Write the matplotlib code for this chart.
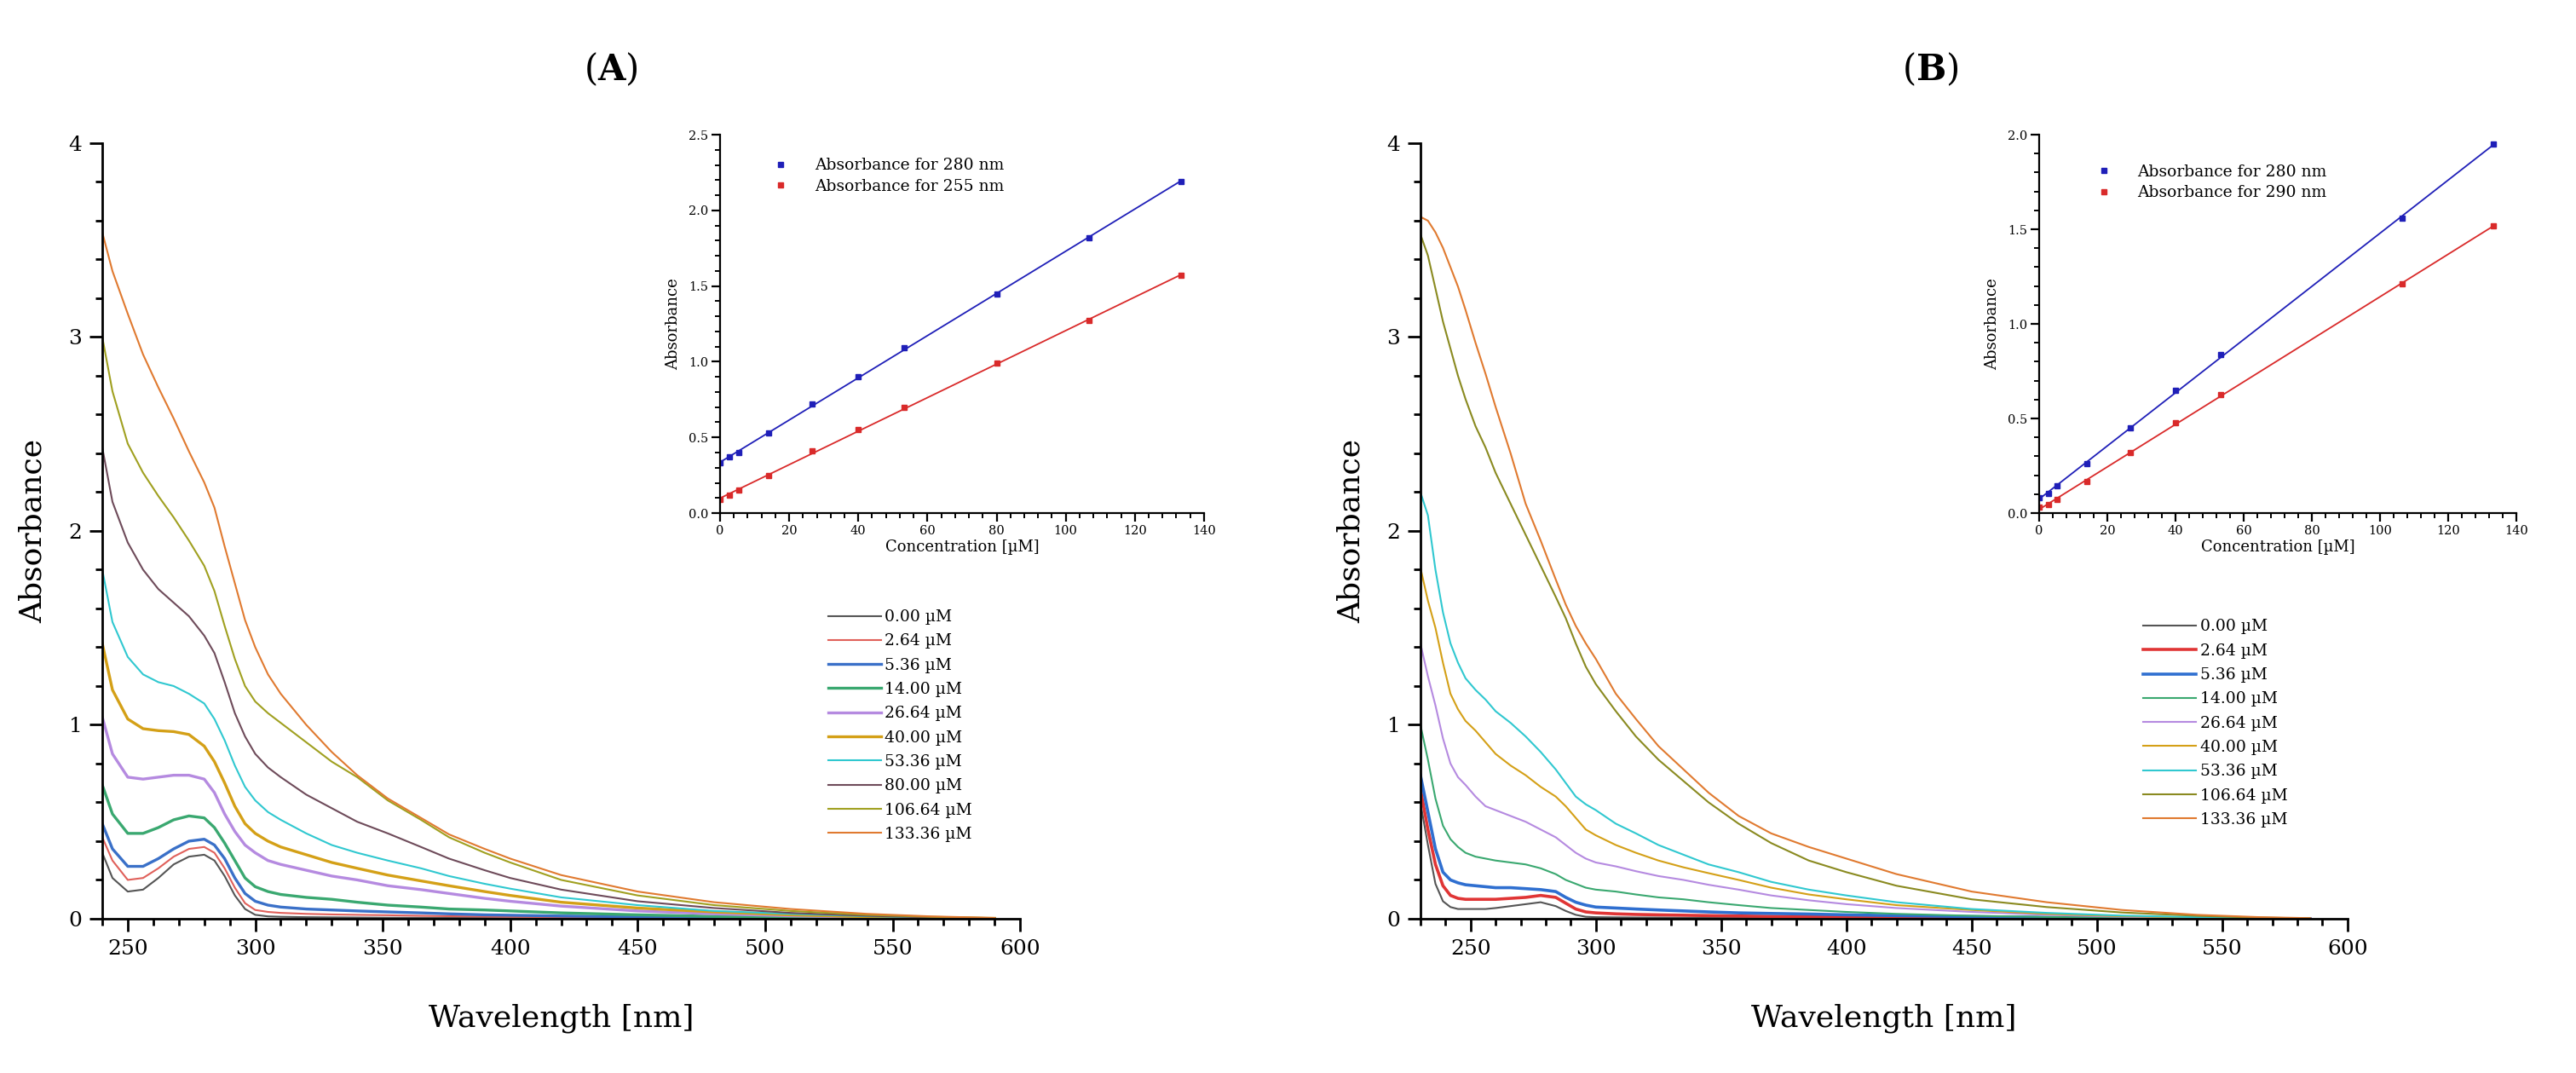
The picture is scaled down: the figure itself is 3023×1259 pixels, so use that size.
import numpy as np
import matplotlib.pyplot as plt
from matplotlib.ticker import MultipleLocator

plt.rcParams['font.family'] = ['DejaVu Serif']
plt.rcParams['mathtext.fontset'] = 'custom'
plt.rcParams['mathtext.bf'] = 'DejaVu Serif:bold'

# =========================================================
# DATA - panel A (spectra)
# =========================================================

wl_a = [240, 244, 250, 256, 262, 268, 274, 280, 284, 288, 292, 296, 300, 305, 310,
        320, 330, 340, 352, 365, 376, 390, 400, 420, 450, 480, 510, 540, 565, 590]

abs_a_000 = [0.34, 0.21, 0.14, 0.15, 0.21, 0.28, 0.32, 0.33, 0.30, 0.22, 0.12, 0.05, 0.02, 0.012, 0.01,
             0.008, 0.007, 0.006, 0.005, 0.005, 0.004, 0.004, 0.003, 0.003, 0.002, 0.002, 0.001, 0.001, 0.0, 0.0]
abs_a_264 = [0.42, 0.30, 0.20, 0.21, 0.26, 0.32, 0.36, 0.37, 0.34, 0.26, 0.16, 0.08, 0.045, 0.035, 0.03,
             0.025, 0.022, 0.02, 0.018, 0.015, 0.013, 0.011, 0.01, 0.008, 0.006, 0.004, 0.003, 0.002, 0.001, 0.0]
abs_a_536 = [0.49, 0.36, 0.27, 0.27, 0.31, 0.36, 0.40, 0.41, 0.38, 0.31, 0.21, 0.13, 0.09, 0.07, 0.06,
             0.05, 0.045, 0.04, 0.035, 0.03, 0.025, 0.02, 0.018, 0.014, 0.01, 0.006, 0.004, 0.002, 0.001, 0.0]
abs_a_1400 = [0.69, 0.54, 0.44, 0.44, 0.47, 0.51, 0.53, 0.52, 0.47, 0.39, 0.30, 0.21, 0.165, 0.14, 0.125,
              0.11, 0.10, 0.085, 0.07, 0.06, 0.05, 0.045, 0.04, 0.03, 0.02, 0.012, 0.007, 0.004, 0.002, 0.001]
abs_a_2664 = [1.04, 0.85, 0.73, 0.72, 0.73, 0.74, 0.74, 0.72, 0.65, 0.54, 0.45, 0.38, 0.34, 0.30, 0.28,
              0.25, 0.22, 0.20, 0.17, 0.15, 0.13, 0.105, 0.09, 0.065, 0.04, 0.025, 0.015, 0.008, 0.004, 0.001]
abs_a_4000 = [1.42, 1.18, 1.03, 0.98, 0.97, 0.965, 0.95, 0.89, 0.81, 0.70, 0.58, 0.49, 0.44, 0.40, 0.37,
              0.33, 0.29, 0.26, 0.225, 0.195, 0.17, 0.14, 0.12, 0.085, 0.055, 0.035, 0.02, 0.01, 0.005, 0.002]
abs_a_5336 = [1.80, 1.53, 1.35, 1.26, 1.22, 1.20, 1.16, 1.11, 1.03, 0.92, 0.79, 0.68, 0.61, 0.55, 0.51,
              0.44, 0.38, 0.34, 0.30, 0.26, 0.22, 0.18, 0.155, 0.11, 0.07, 0.04, 0.025, 0.013, 0.006, 0.002]
abs_a_8000 = [2.43, 2.15, 1.94, 1.80, 1.70, 1.63, 1.56, 1.46, 1.37, 1.22, 1.06, 0.94, 0.85, 0.78, 0.73,
              0.64, 0.57, 0.50, 0.44, 0.37, 0.31, 0.25, 0.21, 0.15, 0.09, 0.055, 0.03, 0.015, 0.007, 0.002]
abs_a_10664 = [3.00, 2.72, 2.45, 2.30, 2.18, 2.07, 1.95, 1.82, 1.69, 1.51, 1.34, 1.20, 1.12, 1.06, 1.01,
               0.91, 0.81, 0.73, 0.61, 0.51, 0.42, 0.34, 0.29, 0.20, 0.12, 0.07, 0.04, 0.02, 0.01, 0.003]
abs_a_13336 = [3.54, 3.34, 3.12, 2.91, 2.74, 2.58, 2.41, 2.25, 2.12, 1.92, 1.73, 1.54, 1.40, 1.26, 1.16,
               1.00, 0.86, 0.74, 0.62, 0.52, 0.435, 0.36, 0.31, 0.225, 0.14, 0.085, 0.05, 0.025, 0.012, 0.004]

# =========================================================
# DATA - panel B (spectra)
# =========================================================

wl_b = [230, 233, 236, 239, 242, 245, 248, 252, 256, 260, 266, 272, 278, 284, 288, 292, 296,
        300, 308, 316, 325, 335, 345, 357, 370, 385, 400, 420, 450, 480, 510, 540, 565, 585]

abs_b_000 = [0.60, 0.38, 0.18, 0.09, 0.06, 0.05, 0.05, 0.05, 0.05, 0.055, 0.065, 0.075, 0.085, 0.065, 0.04, 0.02, 0.01,
             0.008, 0.007, 0.006, 0.006, 0.005, 0.005, 0.004, 0.004, 0.003, 0.003, 0.002, 0.002, 0.001, 0.001, 0.0, 0.0, 0.0]
abs_b_264 = [0.67, 0.46, 0.28, 0.17, 0.12, 0.105, 0.10, 0.10, 0.10, 0.10, 0.105, 0.11, 0.12, 0.11, 0.08, 0.05, 0.035,
             0.03, 0.025, 0.022, 0.02, 0.018, 0.016, 0.014, 0.012, 0.01, 0.009, 0.007, 0.005, 0.003, 0.002, 0.001, 0.0, 0.0]
abs_b_536 = [0.74, 0.55, 0.36, 0.24, 0.20, 0.185, 0.175, 0.17, 0.165, 0.16, 0.16, 0.155, 0.15, 0.14, 0.11, 0.085, 0.07,
             0.06, 0.055, 0.05, 0.045, 0.04, 0.035, 0.03, 0.027, 0.024, 0.02, 0.016, 0.011, 0.007, 0.004, 0.002, 0.001, 0.0]
abs_b_1400 = [1.00, 0.82, 0.62, 0.48, 0.41, 0.37, 0.34, 0.32, 0.31, 0.30, 0.29, 0.28, 0.26, 0.23, 0.20, 0.18, 0.16,
              0.15, 0.14, 0.125, 0.11, 0.10, 0.085, 0.07, 0.055, 0.045, 0.035, 0.025, 0.015, 0.009, 0.005, 0.003, 0.001, 0.0]
abs_b_2664 = [1.42, 1.25, 1.10, 0.93, 0.80, 0.73, 0.69, 0.63, 0.58, 0.56, 0.53, 0.50, 0.46, 0.42, 0.38, 0.34, 0.31,
              0.29, 0.27, 0.245, 0.22, 0.20, 0.175, 0.15, 0.12, 0.095, 0.075, 0.055, 0.035, 0.02, 0.01, 0.005, 0.002, 0.001]
abs_b_4000 = [1.81, 1.64, 1.50, 1.32, 1.16, 1.08, 1.02, 0.97, 0.91, 0.85, 0.79, 0.74, 0.68, 0.63, 0.58, 0.52, 0.46,
              0.43, 0.38, 0.34, 0.30, 0.265, 0.235, 0.20, 0.16, 0.125, 0.10, 0.07, 0.045, 0.025, 0.013, 0.006, 0.003, 0.001]
abs_b_5336 = [2.20, 2.08, 1.80, 1.58, 1.42, 1.32, 1.24, 1.18, 1.13, 1.07, 1.01, 0.94, 0.86, 0.77, 0.70, 0.63, 0.59,
              0.56, 0.49, 0.44, 0.38, 0.33, 0.28, 0.24, 0.19, 0.15, 0.12, 0.085, 0.05, 0.03, 0.016, 0.008, 0.004, 0.001]
abs_b_10664 = [3.53, 3.42, 3.25, 3.08, 2.94, 2.80, 2.68, 2.54, 2.43, 2.30, 2.14, 1.98, 1.82, 1.66, 1.55, 1.42, 1.30,
               1.21, 1.07, 0.94, 0.82, 0.71, 0.60, 0.49, 0.39, 0.30, 0.24, 0.17, 0.10, 0.06, 0.032, 0.015, 0.006, 0.002]
abs_b_13336 = [3.62, 3.60, 3.54, 3.46, 3.36, 3.26, 3.14, 2.97, 2.81, 2.64, 2.40, 2.14, 1.95, 1.75, 1.62, 1.51, 1.42,
               1.34, 1.16, 1.03, 0.89, 0.77, 0.65, 0.53, 0.44, 0.37, 0.31, 0.23, 0.14, 0.085, 0.045, 0.02, 0.008, 0.003]

# =========================================================
# DATA - calibration insets
# =========================================================

conc_a = [0.0, 2.64, 5.36, 14.0, 26.64, 40.0, 53.36, 80.0, 106.64, 133.36]
ins_a_280 = [0.33, 0.37, 0.40, 0.53, 0.72, 0.90, 1.09, 1.45, 1.82, 2.19]
ins_a_255 = [0.09, 0.12, 0.15, 0.25, 0.41, 0.55, 0.70, 0.99, 1.27, 1.57]

conc_b = [0.0, 2.64, 5.36, 14.0, 26.64, 40.0, 53.36, 106.64, 133.36]
ins_b_280 = [0.08, 0.105, 0.146, 0.26, 0.45, 0.647, 0.836, 1.56, 1.95]
ins_b_290 = [0.03, 0.045, 0.073, 0.168, 0.318, 0.477, 0.627, 1.21, 1.52]

labels_a = ["0.00 µM", "2.64 µM", "5.36 µM", "14.00 µM", "26.64 µM",
            "40.00 µM", "53.36 µM", "80.00 µM", "106.64 µM", "133.36 µM"]
labels_b = ["0.00 µM", "2.64 µM", "5.36 µM", "14.00 µM", "26.64 µM",
            "40.00 µM", "53.36 µM", "106.64 µM", "133.36 µM"]

series_a = [abs_a_000, abs_a_264, abs_a_536, abs_a_1400, abs_a_2664,
            abs_a_4000, abs_a_5336, abs_a_8000, abs_a_10664, abs_a_13336]
series_b = [abs_b_000, abs_b_264, abs_b_536, abs_b_1400, abs_b_2664,
            abs_b_4000, abs_b_5336, abs_b_10664, abs_b_13336]

colors_a = ["#555555", "#e0605a", "#3a70c8", "#3aa870", "#b58ae0",
            "#d4a017", "#30c8d0", "#6e4b5a", "#a0a020", "#e07a30"]
widths_a = [1.5, 1.5, 2.4, 2.4, 2.4, 2.4, 1.5, 1.5, 1.5, 1.5]
colors_b = ["#555555", "#e03535", "#2f6fd0", "#3aa870", "#b58ae0",
            "#d4a017", "#30c8d0", "#8a8a20", "#e07a30"]
widths_b = [1.5, 2.6, 2.6, 1.5, 1.5, 1.5, 1.5, 1.5, 1.5]

# =========================================================
# FIGURE
# =========================================================

fig = plt.figure(figsize=(30.23, 12.59), dpi=100)

ax_a = fig.add_axes([0.0397, 0.1438, 0.3563, 0.7228])
ax_b = fig.add_axes([0.5514, 0.1438, 0.3599, 0.7228])


def style_main(ax, xmin):
    ax.set_xlim(xmin, 600)
    ax.set_ylim(0, 4)
    ax.spines["top"].set_visible(False)
    ax.spines["right"].set_visible(False)
    for s in ["left", "bottom"]:
        ax.spines[s].set_linewidth(2.0)
    ax.xaxis.set_major_locator(MultipleLocator(50))
    ax.xaxis.set_minor_locator(MultipleLocator(10))
    ax.yaxis.set_major_locator(MultipleLocator(1))
    ax.yaxis.set_minor_locator(MultipleLocator(0.2))
    ax.tick_params(which="major", direction="out", length=11, width=2.0, labelsize=18, pad=6)
    ax.tick_params(which="minor", direction="out", length=6, width=2.0)
    ax.set_xlabel("Wavelength [nm]", fontsize=26, labelpad=38)
    ax.set_ylabel("Absorbance", fontsize=26, labelpad=18)


for ys, lab, col, lw in zip(series_a, labels_a, colors_a, widths_a):
    ax_a.plot(wl_a, ys, color=col, lw=lw, label=lab)
style_main(ax_a, 240)
ax_a.legend(loc="upper left", bbox_to_anchor=(0.3215, 0.432), bbox_transform=fig.transFigure,
            frameon=False, fontsize=13.5, handlelength=3.3, handletextpad=0.25,
            labelspacing=0.55, borderpad=0, borderaxespad=0)

for ys, lab, col, lw in zip(series_b, labels_b, colors_b, widths_b):
    ax_b.plot(wl_b, ys, color=col, lw=lw, label=lab)
style_main(ax_b, 230)
ax_b.legend(loc="upper left", bbox_to_anchor=(0.832, 0.423), bbox_transform=fig.transFigure,
            frameon=False, fontsize=13.5, handlelength=3.3, handletextpad=0.25,
            labelspacing=0.55, borderpad=0, borderaxespad=0)

# =========================================================
# INSETS
# =========================================================

ins_a = fig.add_axes([0.2795, 0.5218, 0.1879, 0.3527])
ins_b = fig.add_axes([0.7916, 0.5218, 0.1852, 0.3527])


def draw_inset(ax, conc, blue, red, red_label, ymax, legend_xy):
    for ys, col, lab in [(blue, "#1f1fb8", "Absorbance for 280 nm"), (red, "#d92a2a", red_label)]:
        k, b = np.polyfit(conc, ys, 1)
        xs = np.array([conc[0], conc[-1]])
        ax.plot(xs, k * xs + b, color=col, lw=1.3)
        ax.plot(conc, ys, "s", color=col, ms=4, label=lab)
    ax.set_xlim(0, 140)
    ax.set_ylim(0, ymax)
    ax.spines["top"].set_visible(False)
    ax.spines["right"].set_visible(False)
    for s in ["left", "bottom"]:
        ax.spines[s].set_linewidth(1.6)
    ax.xaxis.set_major_locator(MultipleLocator(20))
    ax.xaxis.set_minor_locator(MultipleLocator(4))
    ax.yaxis.set_major_locator(MultipleLocator(0.5))
    ax.yaxis.set_minor_locator(MultipleLocator(0.1))
    ax.yaxis.set_major_formatter("{x:.1f}")
    ax.tick_params(which="major", direction="out", length=7, width=1.6, labelsize=10.5, pad=3)
    ax.tick_params(which="minor", direction="out", length=4, width=1.4)
    ax.set_xlabel("Concentration [µM]", fontsize=13, labelpad=2)
    ax.set_ylabel("Absorbance", fontsize=13, labelpad=6)
    ax.legend(loc="upper left", bbox_to_anchor=legend_xy, bbox_transform=fig.transFigure,
              frameon=False, fontsize=13.5, handlelength=1.0, handletextpad=1.6,
              labelspacing=0.35, borderpad=0, borderaxespad=0)


draw_inset(ins_a, conc_a, ins_a_280, ins_a_255, "Absorbance for 255 nm", 2.5, (0.3, 0.853))
draw_inset(ins_b, conc_b, ins_b_280, ins_b_290, "Absorbance for 290 nm", 2.0, (0.8135, 0.847))

# =========================================================
# PANEL TITLES
# =========================================================

fig.text(0.2372, 0.935, r"($\mathbf{A}$)", ha="center", va="center", fontsize=30)
fig.text(0.7492, 0.935, r"($\mathbf{B}$)", ha="center", va="center", fontsize=30)

fig.savefig("out.png", dpi=100)
